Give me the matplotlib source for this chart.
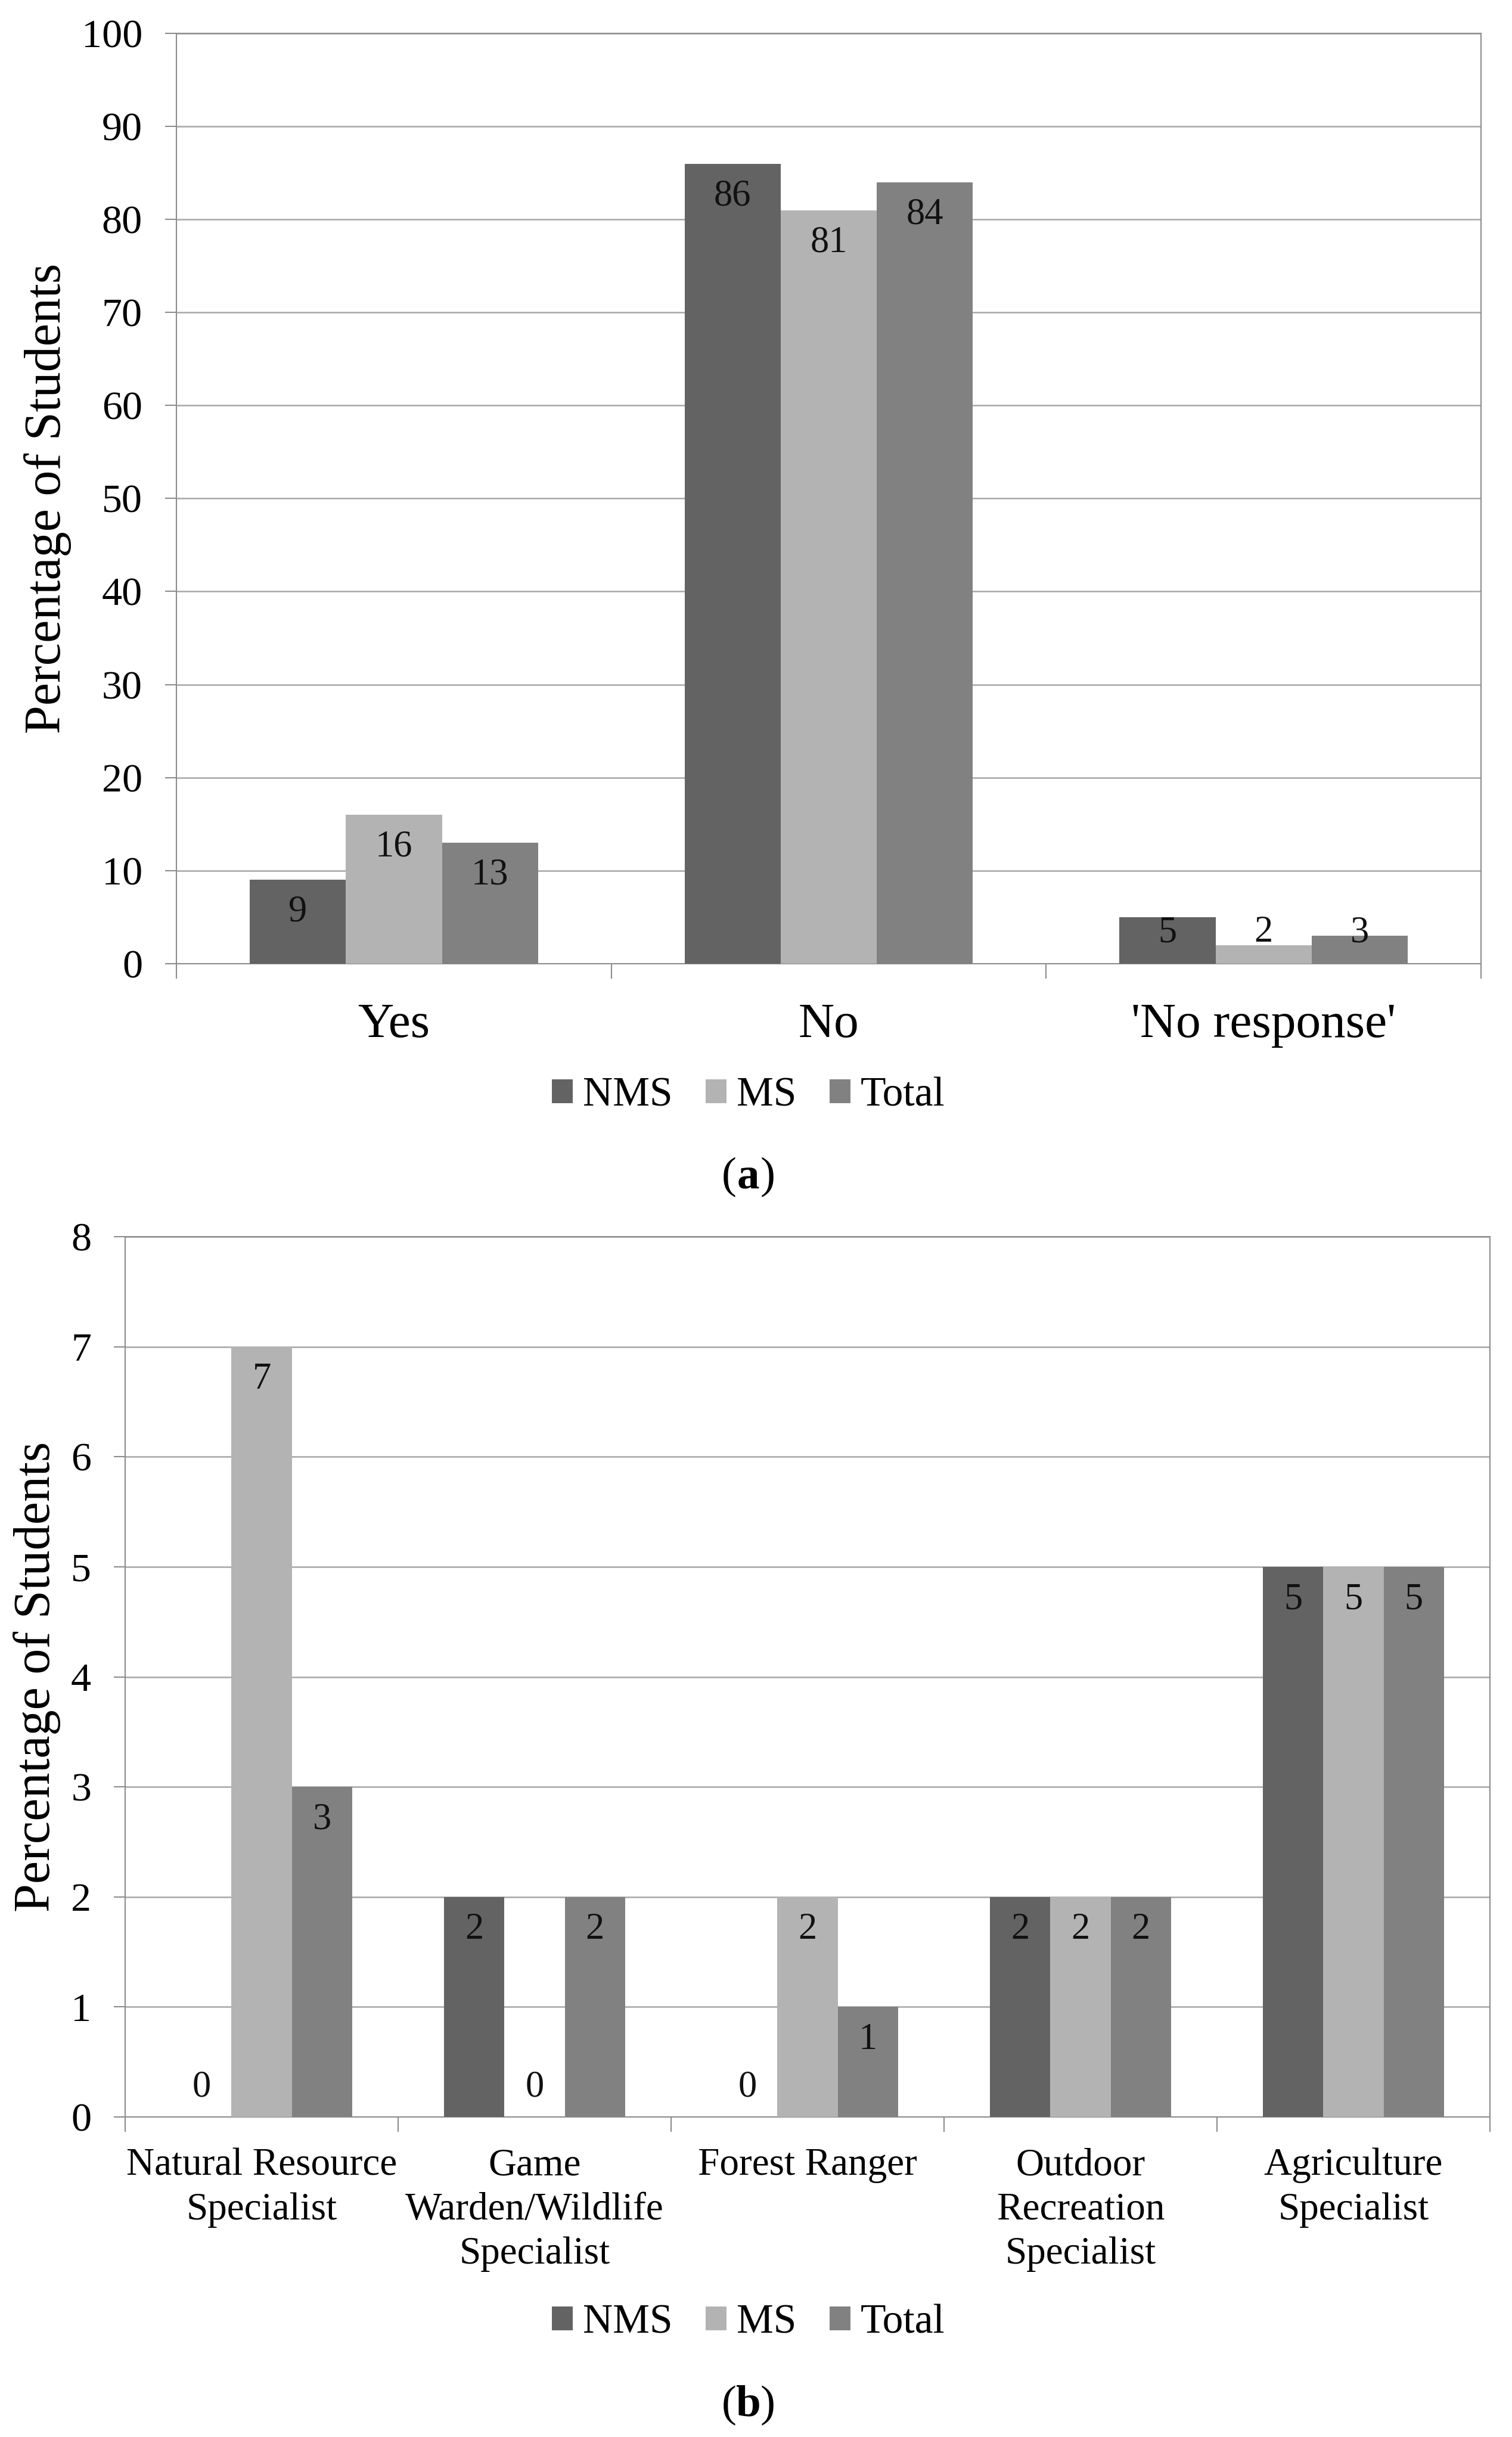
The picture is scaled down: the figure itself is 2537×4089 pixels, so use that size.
import numpy as np
import matplotlib.pyplot as plt

plt.rcParams['font.family'] = ['Liberation Serif', 'DejaVu Serif']

series = ['NMS', 'MS', 'Total']
colors = ['#636363', '#b3b3b3', '#818181']

# panel (a)
answers = ['Yes', 'No', "'No response'"]
nms_a = [9, 86, 5]
ms_a = [16, 81, 2]
total_a = [13, 84, 3]

# panel (b)
careers = ['Natural Resource\nSpecialist', 'Game\nWarden/Wildlife\nSpecialist',
           'Forest Ranger', 'Outdoor\nRecreation\nSpecialist', 'Agriculture\nSpecialist']
nms_b = [0, 2, 0, 2, 5]
ms_b = [7, 0, 2, 2, 5]
total_b = [3, 2, 1, 2, 5]

edge = '#8c8c8c'
grid = '#a6a6a6'


def draw(ax, cats, vals, ymax, ystep, off, floor, cat_size, pad, lpad):
    n = len(cats)
    x = np.arange(n) + 0.5
    w = 0.221
    bars = []
    for i, v in enumerate(vals):
        pos = x + (i - 1) * w
        b = ax.bar(pos, v, w, color=colors[i], zorder=3)
        bars.append(b)
        for px, pv in zip(pos, v):
            ax.text(px, max(pv - off, floor), str(pv), ha='center', va='center',
                    fontsize=45, color='#111111', zorder=4)
    ax.set_xlim(0, n)
    ax.set_ylim(0, ymax)
    ax.set_xticks(x)
    ax.set_xticklabels(cats, fontsize=cat_size, linespacing=1.33)
    ax.set_xticks(np.arange(n + 1), minor=True)
    ax.tick_params(axis='x', which='major', length=0, pad=pad)
    ax.tick_params(axis='x', which='minor', length=18, width=1.5, color=edge)
    ax.set_yticks(np.arange(0, ymax + ystep, ystep))
    ax.tick_params(axis='y', length=14, width=1.5, color=edge, labelsize=49, pad=27)
    ax.yaxis.grid(True, color=grid, lw=1.8)
    ax.set_axisbelow(True)
    for s in ax.spines.values():
        s.set_color(edge)
        s.set_linewidth(1.5)
    ax.set_ylabel('Percentage of Students', fontsize=62, labelpad=lpad)
    return bars


fig = plt.figure(figsize=(25.37, 40.89), dpi=100)

ax1 = fig.add_axes([0.1167, 0.6046, 0.8628, 0.3817])
bars = draw(ax1, answers, [nms_a, ms_a, total_a], 100, 10, 3.5, 3.3, 60, 47, 12)

ax2 = fig.add_axes([0.0828, 0.1313, 0.9026, 0.3612])
draw(ax2, careers, [nms_b, ms_b, total_b], 8, 1, 0.3, 0.27, 47, 37, 12)

for yy in [0.5503, 0.0467]:
    fig.legend(bars, series, loc='center', bbox_to_anchor=(0.495, yy), ncol=3,
               frameon=False, fontsize=50, handlelength=0.5, handleheight=0.5,
               handletextpad=0.25, columnspacing=0.8)

for letter, yy in [('a', 1 - 1975 / 4089), ('b', 1 - 4036 / 4089)]:
    fig.text(0.495, yy, letter, ha='center', va='center', fontsize=54, fontweight='bold')
    fig.text(0.495, yy, '(', ha='right', va='center', fontsize=54,
             transform=fig.transFigure + plt.matplotlib.transforms.ScaledTranslation(-0.2, 0, fig.dpi_scale_trans))
    fig.text(0.495, yy, ')', ha='left', va='center', fontsize=54,
             transform=fig.transFigure + plt.matplotlib.transforms.ScaledTranslation(0.2, 0, fig.dpi_scale_trans))

fig.savefig('out.png', dpi=100)
